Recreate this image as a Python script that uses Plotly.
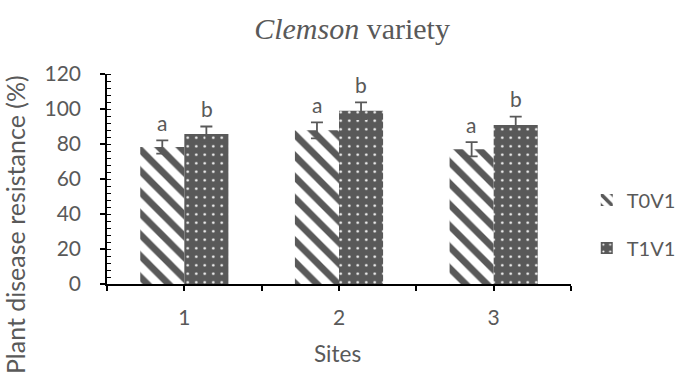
import plotly.graph_objects as go

# Data
sites = [1, 2, 3]
site_labels = ["1", "2", "3"]
t0v1 = [78.3, 87.8, 77.0]
t0v1_err = [3.8, 4.6, 4.1]
t1v1 = [85.7, 99.0, 90.9]
t1v1_err = [4.3, 4.8, 4.7]
t0v1_letters = ["a", "a", "a"]
t1v1_letters = ["b", "b", "b"]

GREY = "#595959"
TEXT = "#595959"
SANS = "Lato, 'Open Sans', sans-serif"

fig = go.Figure()

fig.add_trace(go.Bar(
    x=sites, y=t0v1, name="T0V1", legend="legend", showlegend=True,
    marker=dict(color="white", line=dict(width=0),
                pattern=dict(shape="\\", fgcolor=GREY, bgcolor="white",
                             fgopacity=1, size=15, solidity=0.45,
                             fillmode="overlay")),
    error_y=dict(type="data", array=t0v1_err, visible=True,
                 color=GREY, thickness=1.8, width=6),
))
fig.add_trace(go.Bar(
    x=sites, y=t1v1, name="T1V1", legend="legend2", showlegend=True,
    marker=dict(color=GREY, line=dict(width=0),
                pattern=dict(shape=".", fgcolor="white", bgcolor=GREY,
                             fgopacity=1, size=8.5, solidity=0.07,
                             fillmode="overlay")),
    error_y=dict(type="data", array=t1v1_err, visible=True,
                 color=GREY, thickness=1.8, width=6),
))

# Significance letters above each error bar
half = 0.1435
annotations = []
for s, v, e, lab in zip(sites, t0v1, t0v1_err, t0v1_letters):
    annotations.append(dict(x=s - half, y=v + e, xref="x", yref="y", text=lab,
                            showarrow=False, yanchor="middle", yshift=18,
                            font=dict(family=SANS, size=21, color=TEXT)))
for s, v, e, lab in zip(sites, t1v1, t1v1_err, t1v1_letters):
    annotations.append(dict(x=s + half, y=v + e, xref="x", yref="y", text=lab,
                            showarrow=False, yanchor="middle", yshift=18,
                            font=dict(family=SANS, size=21, color=TEXT)))

# Axis titles
annotations.append(dict(x=-0.198, y=0.281, xref="paper", yref="paper",
                        text="Plant disease resistance (%)", textangle=-90,
                        showarrow=False, xanchor="center", yanchor="middle",
                        font=dict(family=SANS, size=25, color=TEXT)))
annotations.append(dict(x=0.497, y=-0.329, xref="paper", yref="paper",
                        text="Sites", showarrow=False,
                        xanchor="center", yanchor="middle",
                        font=dict(family=SANS, size=22.5, color=TEXT)))

# x ticks at category boundaries and centres, labels only at centres
xtickvals = [0.5, 1, 1.5, 2, 2.5, 3, 3.5]
xticktext = ["", site_labels[0], "", site_labels[1], "", site_labels[2], ""]

fig.update_layout(
    width=693, height=381,
    margin=dict(l=107, r=111, t=74, b=97),
    paper_bgcolor="white", plot_bgcolor="white",
    showlegend=True,
    barmode="group", bargap=0.43, bargroupgap=0,
    title=dict(text="<i>Clemson</i> variety", x=0.508, xref="container",
               y=1 - 28 / 381, yref="container", xanchor="center", yanchor="middle",
               font=dict(family="'Liberation Serif', 'Times New Roman', serif",
                         size=30, color=TEXT)),
    xaxis=dict(range=[0.5, 3.5], tickvals=xtickvals, ticktext=xticktext,
               showgrid=False, zeroline=False,
               showline=True, linecolor="black", linewidth=1.5,
               ticks="outside", ticklen=5, tickcolor="black", tickwidth=1.5,
               ticklabelstandoff=9,
               tickfont=dict(family=SANS, size=21, color=TEXT)),
    yaxis=dict(range=[0, 120], dtick=20, showgrid=False, zeroline=False,
               showline=True, linecolor="black", linewidth=1.5,
               ticks="outside", ticklen=5, tickcolor="black", tickwidth=1.5,
               ticklabelstandoff=15,
               minor=dict(dtick=4, ticks="inside", ticklen=4,
                          tickcolor="black", tickwidth=1),
               tickfont=dict(family=SANS, size=21, color=TEXT)),
    legend=dict(x=1.034, y=0.40, xanchor="left", yanchor="middle",
                bgcolor="rgba(0,0,0,0)", itemwidth=30,
                font=dict(family=SANS, size=20, color=TEXT)),
    legend2=dict(x=1.034, y=0.171, xanchor="left", yanchor="middle",
                 bgcolor="rgba(0,0,0,0)", itemwidth=30,
                 font=dict(family=SANS, size=20, color=TEXT)),
    annotations=annotations,
)

fig.write_html("out.html")
